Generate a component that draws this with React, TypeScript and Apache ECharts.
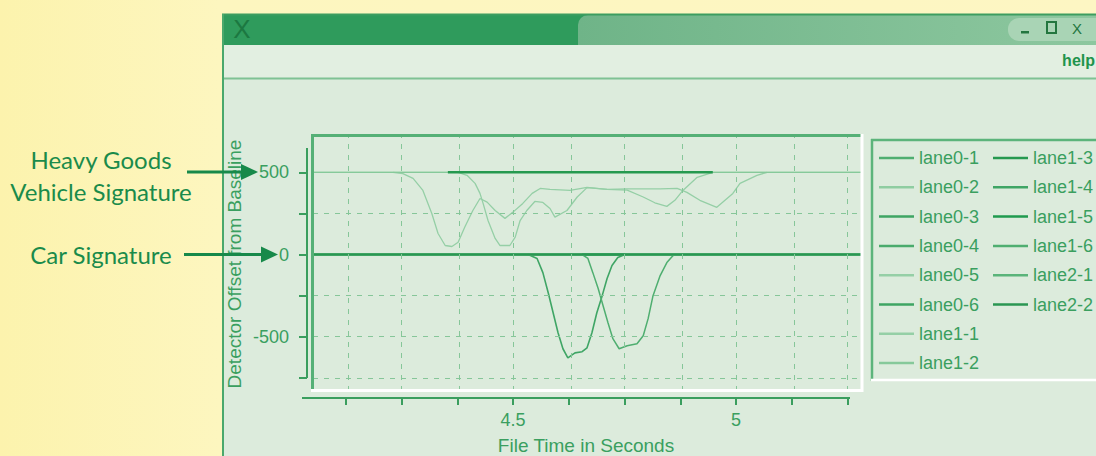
import React, { useEffect, useRef } from "react";
import * as echarts from "echarts";

// ---------- data ----------
const laneNames = [
  "lane0-1", "lane0-2", "lane0-3", "lane0-4", "lane0-5", "lane0-6", "lane1-1", "lane1-2",
  "lane1-3", "lane1-4", "lane1-5", "lane1-6", "lane2-1", "lane2-2",
];
const legendColumn1 = laneNames.slice(0, 8);
const legendColumn2 = laneNames.slice(8);

const xTicks = [4.125, 4.25, 4.375, 4.5, 4.625, 4.75, 4.875, 5, 5.125, 5.25];
const xLabelled = [4.5, 5];
const yTicks = [500, 250, 0, -250, -500, -750];
const yLabelled = [500, 0, -500];
const yDashed = [250, -250, -500, -750];

const carBaseline = [[4.0, 0], [5.3, 0]];
const hgvBaseline = [[4.0, 500], [5.3, 500]];
const hgvOccupied = [[4.354, 500], [4.948, 500]];
const carOccupied = [[4.655, 0], [4.75, 0]];

const hgvLaneA = [
  [4.231, 500], [4.253, 492], [4.276, 463], [4.298, 390], [4.318, 250], [4.332, 128],
  [4.348, 55], [4.363, 49], [4.377, 75], [4.392, 167], [4.410, 268], [4.426, 341],
  [4.442, 319], [4.460, 268], [4.482, 220], [4.500, 258], [4.522, 311], [4.543, 372],
  [4.561, 402], [4.583, 396], [4.628, 390], [4.666, 408], [4.711, 396], [4.756, 392],
  [4.792, 350], [4.818, 315], [4.845, 293], [4.863, 330], [4.881, 390], [4.913, 470],
  [4.948, 500],
];
const hgvLaneB = [
  [4.377, 500], [4.397, 482], [4.415, 433], [4.426, 372], [4.433, 311], [4.444, 207],
  [4.460, 98], [4.471, 55], [4.493, 55], [4.505, 106], [4.516, 207], [4.531, 268],
  [4.549, 323], [4.567, 317], [4.583, 280], [4.594, 228], [4.621, 268], [4.644, 350],
  [4.666, 407], [4.711, 396], [4.756, 400], [4.830, 400], [4.868, 402], [4.890, 378],
  [4.919, 330], [4.957, 287], [4.993, 372], [5.009, 433], [5.047, 482], [5.070, 500],
];
const carLaneA = [
  [4.534, 0], [4.554, -24], [4.567, -110], [4.579, -232], [4.590, -354], [4.601, -476],
  [4.612, -573], [4.623, -628], [4.639, -598], [4.655, -591], [4.666, -567], [4.677, -476],
  [4.688, -354], [4.700, -250], [4.711, -146], [4.722, -67], [4.735, -18], [4.751, 0],
];
const carLaneB = [
  [4.655, 0], [4.668, -24], [4.679, -110], [4.691, -207], [4.702, -311], [4.713, -415],
  [4.724, -512], [4.738, -573], [4.756, -555], [4.778, -543], [4.792, -494], [4.803, -390],
  [4.814, -250], [4.830, -128], [4.845, -49], [4.859, -6], [4.870, 0],
];

// ---------- styling ----------
const FONT = "Liberation Sans";
const TEXT_GREEN = "#3a9f5f";
const AXIS_GREEN = "#3a9e5e";
const X_MIN = 4.0516;
const X_MAX = 5.2803;
const Y_MIN = -830;
const Y_MAX = 715;

type S = { name: string; data: number[][]; color: string; width: number };
const seriesSpec: S[] = [
  { name: "lane0-1", data: carBaseline, color: "#4fae70", width: 2 },
  { name: "lane0-2", data: hgvBaseline, color: "#8fcda1", width: 1.2 },
  { name: "lane0-3", data: carBaseline, color: "#3ea563", width: 2 },
  { name: "lane0-4", data: carBaseline, color: "#4aab6c", width: 2 },
  { name: "lane0-5", data: hgvLaneA, color: "#95cfa6", width: 1.3 },
  { name: "lane0-6", data: carBaseline, color: "#3ea563", width: 2 },
  { name: "lane1-1", data: hgvLaneB, color: "#95cfa6", width: 1.3 },
  { name: "lane1-2", data: hgvBaseline, color: "#86c99a", width: 1.2 },
  { name: "lane1-3", data: hgvOccupied, color: "#25994f", width: 2.5 },
  { name: "lane1-4", data: carLaneA, color: "#3fa565", width: 1.6 },
  { name: "lane1-5", data: carOccupied, color: "#1f9a4e", width: 3 },
  { name: "lane1-6", data: carLaneB, color: "#4fae70", width: 1.5 },
  { name: "lane2-1", data: carBaseline, color: "#5ab47a", width: 2 },
  { name: "lane2-2", data: carBaseline, color: "#2a9652", width: 2 },
];

function buildOption() {
  const legendCommon = {
    orient: "vertical",
    icon: "rect",
    itemWidth: 35,
    itemHeight: 2.5,
    itemGap: 11.3,
    top: 149,
    padding: 0,
    selectedMode: false,
    textStyle: { fontSize: 18, color: TEXT_GREEN, fontFamily: FONT },
  };

  const series: any[] = seriesSpec.map((s) => ({
    type: "line",
    name: s.name,
    xAxisIndex: 0,
    yAxisIndex: 0,
    data: s.data,
    symbol: "none",
    showSymbol: false,
    silent: true,
    color: s.color,
    lineStyle: { color: s.color, width: s.width },
  }));
  series.unshift({
    type: "line",
    name: "gridlines",
    xAxisIndex: 0,
    yAxisIndex: 0,
    data: [[X_MIN, 0]],
    symbol: "none",
    silent: true,
    lineStyle: { width: 0 },
    markLine: {
      symbol: "none",
      silent: true,
      label: { show: false },
      lineStyle: { type: [5, 6], color: "#86c699", width: 1 },
      data: [
        ...xTicks.map((v) => ({ xAxis: v })),
        ...yDashed.map((v) => ({ yAxis: v })),
      ],
    },
  });

  const line = (x1: number, y1: number, x2: number, y2: number, stroke: string, w: number, z = -5) => ({
    type: "line",
    z,
    silent: true,
    shape: { x1, y1, x2, y2 },
    style: { stroke, lineWidth: w },
  });

  const graphic: any[] = [
    // left yellow panel
    {
      type: "rect", z: -20, silent: true,
      shape: { x: 0, y: 0, width: 1096, height: 456 },
      style: {
        fill: new echarts.graphic.LinearGradient(0, 0, 1, 0, [
          { offset: 0, color: "#fcf3ad" },
          { offset: 0.2, color: "#fdf6bf" },
          { offset: 1, color: "#fdf6c3" },
        ]),
      },
    },
    // window body
    { type: "rect", z: -19, silent: true, shape: { x: 222, y: 14, width: 874, height: 442 }, style: { fill: "#dcebdc" } },
    // title bar
    { type: "rect", z: -18, silent: true, shape: { x: 222, y: 14, width: 874, height: 31 }, style: { fill: "#2f9b5c" } },
    {
      type: "rect", z: -17, silent: true,
      shape: { x: 578, y: 15, width: 518, height: 30, r: [10, 0, 0, 0] },
      style: {
        fill: new echarts.graphic.LinearGradient(0, 0, 1, 0, [
          { offset: 0, color: "#6fb488" },
          { offset: 1, color: "#8dc79f" },
        ]),
      },
    },
    { type: "rect", z: -16, silent: true, shape: { x: 1008, y: 18, width: 100, height: 23, r: 11 }, style: { fill: "#a9d4b5" } },
    { type: "rect", z: -15, silent: true, shape: { x: 1021, y: 31, width: 8, height: 2.5 }, style: { fill: "#23763f" } },
    { type: "rect", z: -15, silent: true, shape: { x: 1047, y: 22, width: 9, height: 11 }, style: { fill: "none", stroke: "#23763f", lineWidth: 2 } },
    {
      type: "text", z: -15, silent: true, x: 1077, y: 28,
      style: { text: "X", fontSize: 15, fontFamily: FONT, fill: "#23763f", align: "center", verticalAlign: "middle" },
    },
    {
      type: "text", z: -15, silent: true, x: 242, y: 29,
      style: { text: "X", fontSize: 26, fontFamily: FONT, fill: "#1c7841", align: "center", verticalAlign: "middle" },
    },
    // menu bar
    { type: "rect", z: -18, silent: true, shape: { x: 224, y: 45, width: 872, height: 33 }, style: { fill: "#e2efe1" } },
    line(224, 78.5, 1096, 78.5, "#7fc294", 2, -14),
    {
      type: "text", z: -14, silent: true, x: 1095, y: 60,
      style: { text: "help", fontSize: 16, fontWeight: "bold", fontFamily: FONT, fill: "#1f944c", align: "right", verticalAlign: "middle" },
    },
    // window borders
    line(222, 14.5, 1096, 14.5, "#3d9d60", 2, -14),
    line(223, 14, 223, 456, "#4aa86c", 2, -14),
    // plot frame (bevel)
    line(311, 135.5, 862, 135.5, "#55b076", 3, 6),
    line(312.5, 134, 312.5, 392, "#55b076", 3, 6),
    line(311, 390.5, 863, 390.5, "#ffffff", 3, 6),
    line(862, 134, 862, 392, "#ffffff", 3, 6),
    // legend box (bevel)
    line(871, 140, 1096, 140, "#5cb47b", 2.5, -5),
    line(872, 139, 872, 381, "#5cb47b", 2.5, -5),
    line(871, 380, 1096, 380, "#ffffff", 2.5, -5),
    // separate axis lines
    line(307, 148, 307, 378, AXIS_GREEN, 2, 6),
    line(302, 398, 850, 398, AXIS_GREEN, 2, 6),
    // axis names
    {
      type: "text", z: 6, silent: true, x: 234, y: 264, rotation: Math.PI / 2,
      style: { text: "Detector Offset from Baseline", fontSize: 19, fontFamily: FONT, fill: TEXT_GREEN, align: "center", verticalAlign: "middle" },
    },
    {
      type: "text", z: 6, silent: true, x: 586, y: 445,
      style: { text: "File Time in Seconds", fontSize: 19, fontFamily: FONT, fill: TEXT_GREEN, align: "center", verticalAlign: "middle" },
    },
    // annotations
    {
      type: "text", z: 20, silent: true, x: 101, y: 159,
      style: { text: "Heavy Goods", fontSize: 24, fontFamily: "Lato", fill: "#1a8b4b", align: "center", verticalAlign: "middle" },
    },
    {
      type: "text", z: 20, silent: true, x: 101, y: 191,
      style: { text: "Vehicle Signature", fontSize: 24, fontFamily: "Lato", fill: "#1a8b4b", align: "center", verticalAlign: "middle" },
    },
    {
      type: "text", z: 20, silent: true, x: 101, y: 254,
      style: { text: "Car Signature", fontSize: 24, fontFamily: "Lato", fill: "#1a8b4b", align: "center", verticalAlign: "middle" },
    },
    line(187, 172, 246, 172, "#17894a", 3, 20),
    { type: "polygon", z: 20, silent: true, shape: { points: [[241, 164], [258, 172], [241, 180]] }, style: { fill: "#17894a" } },
    line(184, 254.5, 264, 254.5, "#17894a", 3, 20),
    { type: "polygon", z: 20, silent: true, shape: { points: [[261, 246.5], [278, 254.5], [261, 262.5]] }, style: { fill: "#17894a" } },
  ];

  return {
    animation: false,
    backgroundColor: "#fdf6c3",
    textStyle: { fontFamily: FONT },
    grid: [
      { left: 313, top: 137, width: 548, height: 254 },
      { left: 307, top: 172.3, width: 10, height: 205.5 },
      { left: 345.75, top: 380, width: 501.75, height: 18 },
    ],
    xAxis: [
      { gridIndex: 0, type: "value", min: X_MIN, max: X_MAX, show: false },
      { gridIndex: 1, type: "value", show: false },
      {
        gridIndex: 2, type: "value", min: 4.125, max: 5.25, interval: 0.125,
        axisLine: { show: false },
        axisTick: { show: true, length: 7, lineStyle: { color: AXIS_GREEN, width: 2 } },
        axisLabel: {
          margin: 13, fontSize: 18, color: TEXT_GREEN, fontFamily: FONT,
          formatter: (v: number) => (xLabelled.some((t) => Math.abs(t - v) < 1e-6) ? String(v) : ""),
        },
        splitLine: { show: false },
      },
    ],
    yAxis: [
      { gridIndex: 0, type: "value", min: Y_MIN, max: Y_MAX, show: false },
      {
        gridIndex: 1, type: "value", min: yTicks[yTicks.length - 1], max: yTicks[0], interval: 250,
        position: "left",
        axisLine: { show: false },
        axisTick: { show: true, length: 8, lineStyle: { color: AXIS_GREEN, width: 2 } },
        axisLabel: {
          margin: 18, fontSize: 18, color: TEXT_GREEN, fontFamily: FONT,
          formatter: (v: number) => (yLabelled.includes(v) ? String(v) : ""),
        },
        splitLine: { show: false },
      },
      { gridIndex: 2, type: "value", show: false },
    ],
    legend: [
      { ...legendCommon, left: 879, data: legendColumn1 },
      { ...legendCommon, left: 993, data: legendColumn2 },
    ],
    series,
    graphic,
  };
}

export default function App() {
  const ref = useRef<HTMLDivElement>(null);
  useEffect(() => {
    if (!ref.current) return;
    const chart = echarts.init(ref.current, undefined, { renderer: "svg" });
    chart.setOption(buildOption() as any);
    return () => chart.dispose();
  }, []);
  return (
    <div
      ref={ref}
      style={{ position: "absolute", left: 0, top: 0, width: 1096, height: 456 }}
    />
  );
}
